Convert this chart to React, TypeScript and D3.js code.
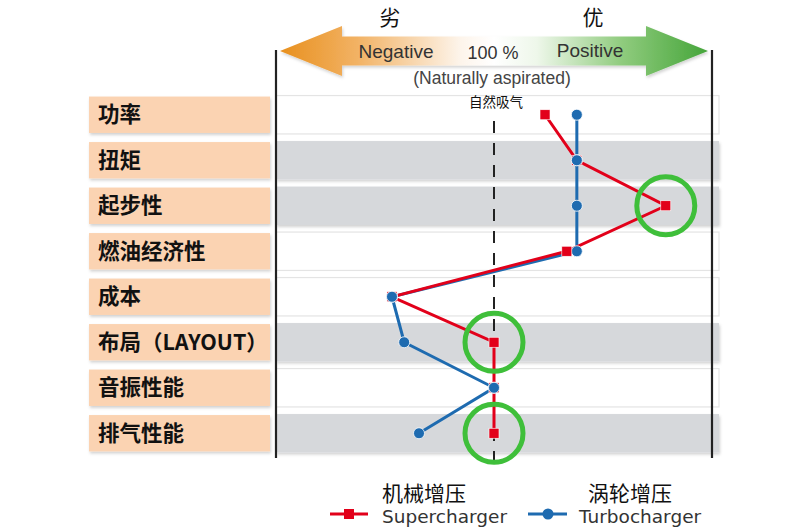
import React from "react";
import * as d3 from "d3";

const categories = ["功率", "扭矩", "起步性", "燃油经济性", "成本", "布局（LAYOUT）", "音振性能", "排气性能"];
const superValues = [111.7, 119, 139.4, 116.7, 76.6, 100, 100, 100];
const turboValues = [119, 119, 119, 119, 76.6, 79.4, 100, 82.8];
const grayRows = [false, true, true, false, false, true, false, true];
const highlighted = [2, 5, 7]; // indices of supercharger points circled
const W = 797, H = 528;

const CJK = "'Noto Sans CJK SC', 'Noto Sans', sans-serif";
const LAT = "'Liberation Sans', Arial, sans-serif";

export default function App() {
  const x = d3.scaleLinear().domain([50, 150]).range([276, 712]);
  const y = d3.scaleBand<string>().domain(categories).range([92, 456]).paddingInner(0.2).paddingOuter(0.1);
  const yc = (c: string) => (y(c) as number) + y.bandwidth() / 2;
  const line = d3.line<[number, number]>().x(d => d[0]).y(d => d[1]);
  const sPts: [number, number][] = categories.map((c, i) => [x(superValues[i]), yc(c)]);
  const tPts: [number, number][] = categories.map((c, i) => [x(turboValues[i]), yc(c)]);
  const x0 = x(100);
  const red = "#e2001a", blue = "#1e6bb0", green = "#3fbf3a";
  const bh = y.step() * 0.8;

  // arrow geometry
  const aL = 280, aR = 708, ay = 51, bodyH = 29, headH = 50, headL = 62;
  const arrowPath = `M${aL},${ay} L${aL + headL},${ay - headH / 2} L${aL + headL},${ay - bodyH / 2} L${aR - headL},${ay - bodyH / 2} L${aR - headL},${ay - headH / 2} L${aR},${ay} L${aR - headL},${ay + headH / 2} L${aR - headL},${ay + bodyH / 2} L${aL + headL},${ay + bodyH / 2} L${aL + headL},${ay + headH / 2} Z`;

  return (
    <svg width={W} height={H} style={{ position: "absolute", left: 0, top: 0, background: "#fff" }}>
      <defs>
        <linearGradient id="arrowGrad" x1="0" x2="1" y1="0" y2="0">
          <stop offset="0" stopColor="#e8901e" />
          <stop offset="0.18" stopColor="#f2b264" />
          <stop offset="0.42" stopColor="#fdf4ea" />
          <stop offset="0.5" stopColor="#ffffff" />
          <stop offset="0.6" stopColor="#eef7ea" />
          <stop offset="0.8" stopColor="#8fcb7d" />
          <stop offset="1" stopColor="#45a53a" />
        </linearGradient>
        <filter id="sh" x="-5%" y="-20%" width="110%" height="150%">
          <feDropShadow dx="1" dy="2" stdDeviation="1.5" floodColor="#000" floodOpacity="0.18" />
        </filter>
      </defs>

      {/* row bands */}
      {categories.map((c, i) => (
        <rect key={"b" + c} x={276} y={(y(c) as number) - 1} width={443} height={bh + 2}
          fill={grayRows[i] ? "#d6d8db" : "#ffffff"} stroke={grayRows[i] ? "none" : "#e4e4e4"} strokeWidth={1.2}
          filter={grayRows[i] ? "url(#sh)" : undefined} />
      ))}

      {/* label boxes */}
      {categories.map((c) => (
        <g key={"l" + c}>
          <rect x={89} y={y(c) as number} width={181} height={bh} fill="#fbd3b2" filter="url(#sh)" />
          <text x={98} y={yc(c) + 7.5} fontFamily={CJK} fontWeight={700} fontSize={21.5} fill="#111">{c}</text>
        </g>
      ))}

      {/* vertical borders */}
      <line x1={276} x2={276} y1={50} y2={458} stroke="#222" strokeWidth={2.2} />
      <line x1={712} x2={712} y1={50} y2={458} stroke="#222" strokeWidth={2.2} />

      {/* arrow */}
      <path d={arrowPath} fill="url(#arrowGrad)" filter="url(#sh)" />
      <text x={396} y={58} textAnchor="middle" fontFamily={LAT} fontSize={19} fill="#333">Negative</text>
      <text x={493} y={59} textAnchor="middle" fontFamily={LAT} fontSize={18} fill="#333">100 %</text>
      <text x={590} y={57} textAnchor="middle" fontFamily={LAT} fontSize={19} fill="#333">Positive</text>
      <text x={492} y={84} textAnchor="middle" fontFamily={LAT} fontSize={17.5} fill="#444">(Naturally aspirated)</text>
      <text x={390} y={25} textAnchor="middle" fontFamily={CJK} fontSize={21} fill="#111">劣</text>
      <text x={593} y={25} textAnchor="middle" fontFamily={CJK} fontSize={21} fill="#111">优</text>
      <text x={496} y={107} textAnchor="middle" fontFamily={CJK} fontSize={13.5} fill="#111">自然吸气</text>

      {/* dashed reference */}
      <line x1={x0} x2={x0} y1={121} y2={465} stroke="#222" strokeWidth={2} strokeDasharray="12,10" />

      {/* series */}
      <path d={line(tPts) as string} fill="none" stroke={blue} strokeWidth={3} />
      <path d={line(sPts) as string} fill="none" stroke={red} strokeWidth={3} />
      {tPts.map((p, i) => (
        <circle key={"t" + i} cx={p[0]} cy={p[1]} r={5.5} fill={blue} stroke="#fff" strokeWidth={0.8} />
      ))}
      {sPts.map((p, i) => (
        <rect key={"s" + i} x={p[0] - 5} y={p[1] - 5} width={10} height={10} fill={red} stroke="#fff" strokeWidth={0.6} />
      ))}
      {/* turbo dots on top where they overlap the red squares */}
      {tPts.map((p, i) => (i === 1 || i === 4 || i === 6) ? (
        <circle key={"tt" + i} cx={p[0]} cy={p[1]} r={5.5} fill={blue} stroke="#fff" strokeWidth={0.8} />
      ) : null)}

      {/* highlight circles */}
      {highlighted.map((i) => (
        <circle key={"h" + i} cx={sPts[i][0]} cy={sPts[i][1]} r={29} fill="none" stroke={green} strokeWidth={5} />
      ))}

      {/* legend */}
      <line x1={330} x2={368} y1={514} y2={514} stroke={red} strokeWidth={3} />
      <rect x={344} y={509} width={10} height={10} fill={red} />
      <text x={382} y={501} fontFamily={CJK} fontSize={21} fill="#111">机械增压</text>
      <text x={382} y={523} fontFamily="'DejaVu Sans', sans-serif" fontSize={18.5} fill="#333">Supercharger</text>
      <line x1={528} x2={567} y1={514} y2={514} stroke={blue} strokeWidth={3} />
      <circle cx={548} cy={514} r={5.5} fill={blue} />
      <text x={588} y={501} fontFamily={CJK} fontSize={21} fill="#111">涡轮增压</text>
      <text x={579} y={523} fontFamily="'DejaVu Sans', sans-serif" fontSize={18.5} fill="#333">Turbocharger</text>
    </svg>
  );
}
